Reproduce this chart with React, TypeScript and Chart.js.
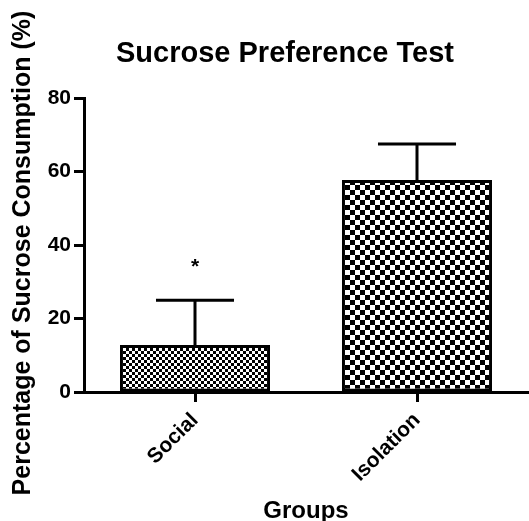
import React, { useEffect, useRef } from "react";
import { Chart, registerables } from "chart.js";

Chart.register(...registerables);

const categories = ["Social", "Isolation"];
const means = [12.8, 57.7];
const sems = [12.2, 9.8];
const markers = ["*", ""];
const yTicks = [0, 20, 40, 60, 80];
const titleText = "Sucrose Preference Test";
const xTitle = "Groups";
const yTitle = "Percentage of Sucrose Consumption (%)";

const FONT = "'Liberation Sans', Arial, Helvetica, sans-serif";

function checker(cell: number): CanvasPattern | string {
  const c = document.createElement("canvas");
  c.width = cell * 2;
  c.height = cell * 2;
  const g = c.getContext("2d");
  if (!g) return "#888";
  g.fillStyle = "#fff";
  g.fillRect(0, 0, cell * 2, cell * 2);
  g.fillStyle = "#000";
  g.fillRect(0, 0, cell, cell);
  g.fillRect(cell, cell, cell, cell);
  const p = g.createPattern(c, "repeat");
  return p || "#888";
}

const errorBarPlugin = {
  id: "errorBars",
  afterDatasetsDraw(chart: any) {
    const { ctx } = chart;
    const yScale = chart.scales.y;
    const meta = chart.getDatasetMeta(0);
    ctx.save();
    ctx.strokeStyle = "#000";
    ctx.lineWidth = 3;
    ctx.lineCap = "butt";
    meta.data.forEach((el: any, i: number) => {
      const top = yScale.getPixelForValue(means[i] + sems[i]);
      const half = el.width * 0.26;
      ctx.beginPath();
      ctx.moveTo(el.x, el.y);
      ctx.lineTo(el.x, top);
      ctx.moveTo(el.x - half, top);
      ctx.lineTo(el.x + half, top);
      ctx.stroke();
      if (markers[i]) {
        ctx.fillStyle = "#000";
        ctx.font = `bold 21px ${FONT}`;
        ctx.textAlign = "center";
        ctx.textBaseline = "alphabetic";
        ctx.fillText(markers[i], el.x, top - 27);
      }
    });
    ctx.restore();
  },
};

const layoutTweakPlugin = {
  id: "layoutTweak",
  afterLayout(chart: any) {
    const tb = chart.titleBlock;
    if (tb) {
      tb.left = chart.chartArea.left - 42;
      tb.right = chart.chartArea.right;
    }
    const ys = chart.scales.y;
    if (ys && !ys.__titlePatched) {
      const orig = ys.drawTitle.bind(ys);
      ys.drawTitle = function () {
        const t = this.top;
        const b = this.bottom;
        this.top = t + 8;
        this.bottom = b + 8;
        orig();
        this.top = t;
        this.bottom = b;
      };
      ys.__titlePatched = true;
    }
  },
};

export default function App() {
  const ref = useRef<HTMLCanvasElement | null>(null);

  useEffect(() => {
    if (!ref.current) return;
    const chart = new Chart(ref.current, {
      type: "bar",
      data: {
        labels: categories,
        datasets: [
          {
            data: means,
            backgroundColor: [checker(3), checker(5)],
            borderColor: "#000",
            borderWidth: 3,
            borderSkipped: false,
            categoryPercentage: 1,
            barPercentage: 0.676,
          },
        ],
      },
      options: {
        responsive: false,
        animation: false,
        layout: { padding: { left: 0, right: 1, top: 0, bottom: 0 } },
        plugins: {
          legend: { display: false },
          tooltip: { enabled: false },
          title: {
            display: true,
            text: titleText,
            color: "#000",
            font: { family: FONT, size: 29, weight: "bold", lineHeight: 1.2 },
            padding: { top: 36.6, bottom: 26.6 },
            fullSize: true,
          },
        },
        scales: {
          x: {
            type: "category",
            offset: true,
            afterFit: (s: any) => {
              s.height = 129;
            },
            grid: {
              offset: false,
              drawOnChartArea: false,
              drawTicks: true,
              tickLength: 10,
              tickWidth: 3,
              tickColor: "#000",
            },
            border: { display: true, color: "#000", width: 3 },
            ticks: {
              color: "#000",
              font: { family: FONT, size: 21, weight: "bold" },
              maxRotation: 45,
              minRotation: 45,
              padding: 6,
            },
            title: {
              display: true,
              text: xTitle,
              color: "#000",
              font: { family: FONT, size: 24, weight: "bold", lineHeight: 0.84 },
              padding: { top: 0, bottom: 0 },
            },
          },
          y: {
            min: 0,
            max: 80,
            afterFit: (s: any) => {
              s.width = 84;
            },
            afterBuildTicks: (s: any) => {
              s.ticks = yTicks.map((v) => ({ value: v }));
            },
            grid: {
              drawOnChartArea: false,
              drawTicks: true,
              tickLength: 10,
              tickWidth: 3,
              tickColor: "#000",
            },
            border: { display: true, color: "#000", width: 3 },
            ticks: {
              color: "#000",
              font: { family: FONT, size: 21, weight: "bold" },
              padding: 3,
            },
            title: {
              display: true,
              text: yTitle,
              color: "#000",
              font: { family: FONT, size: 25, weight: "bold", lineHeight: 1.2 },
              padding: { top: 8, bottom: 0 },
            },
          },
        },
      },
      plugins: [errorBarPlugin, layoutTweakPlugin],
    });
    return () => chart.destroy();
  }, []);

  return (
    <div style={{ position: "fixed", left: 0, top: 0, width: 529, height: 521, background: "#fff" }}>
      <canvas ref={ref} width={529} height={521} />
    </div>
  );
}
